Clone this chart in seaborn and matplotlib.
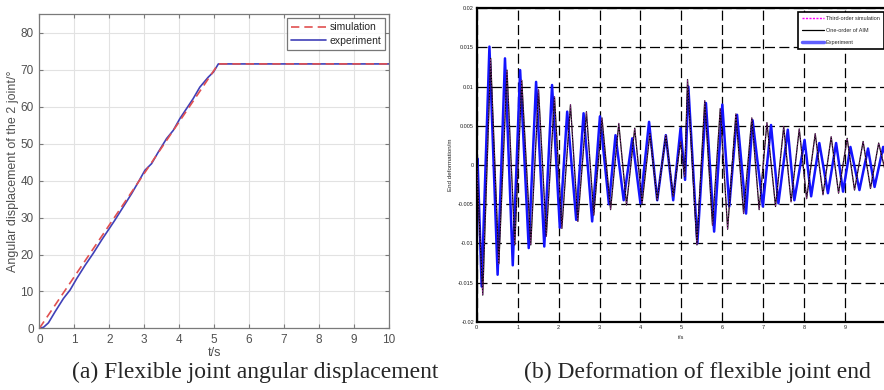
import numpy as np
import pandas as pd
import seaborn as sns
import matplotlib.pyplot as plt
from matplotlib.lines import Line2D

# (a) joint angular displacement
sim_t = [0.0, 5.12, 10.0]
sim_deg = [0.0, 71.6, 71.6]
exp_t = [0.0, 0.12, 0.26, 0.45, 0.69, 0.88, 1.07, 1.31, 1.54, 1.78, 1.97, 2.16, 2.40,
         2.64, 2.83, 3.02, 3.21, 3.40, 3.64, 3.83, 4.02, 4.21, 4.40, 4.59, 4.83,
         4.98, 5.12, 10.0]
exp_deg = [0.0, 0.3, 1.5, 4.5, 8.1, 10.4, 13.5, 17.1, 20.3, 23.9, 26.6, 29.3, 32.9,
           36.5, 39.6, 42.8, 44.6, 47.7, 51.4, 53.6, 56.8, 59.5, 62.2, 65.3, 68.0,
           69.4, 71.6, 71.6]

# (b) end deformation (extrema)
aim_t = [0.0, 0.147, 0.34, 0.54, 0.74, 0.93, 1.10, 1.32, 1.51, 1.70, 1.90, 2.08,
         2.29, 2.47, 2.68, 2.86, 3.06, 3.27, 3.47, 3.66, 3.86, 4.04, 4.23, 4.41,
         4.62, 4.80, 4.98, 5.08, 5.15, 5.38, 5.57, 5.76, 5.95, 6.13, 6.33, 6.52,
         6.72, 6.90, 7.09, 7.30, 7.50, 7.68, 7.88, 8.06, 8.27, 8.46, 8.66, 8.84,
         9.05, 9.23, 9.44, 9.62, 9.82, 10.0]
aim_v = [0.0, -0.0166, 0.0136, -0.0126, 0.0121, -0.0102, 0.0108, -0.0102, 0.0096,
         -0.0091, 0.0087, -0.0081, 0.0077, -0.0072, 0.0068, -0.0064, 0.0060,
         -0.0057, 0.0053, -0.0051, 0.0047, -0.0049, 0.0040, -0.0045, 0.0038,
         -0.0040, 0.0030, -0.0015, 0.0109, -0.0102, 0.0082, -0.0077, 0.0072,
         -0.0082, 0.0065, -0.0062, 0.0060, -0.0057, 0.0054, -0.0053, 0.0049,
         -0.0047, 0.0046, -0.0043, 0.0040, -0.0038, 0.0036, -0.0036, 0.0034,
         -0.0032, 0.0030, -0.0030, 0.0028, -0.0012]
meas_t = [0.0, 0.02, 0.12, 0.31, 0.51, 0.69, 0.88, 1.06, 1.27, 1.45, 1.65, 1.84,
          2.03, 2.21, 2.43, 2.61, 2.82, 3.01, 3.23, 3.39, 3.59, 3.80, 4.00, 4.21,
          4.41, 4.62, 4.80, 4.98, 5.09, 5.17, 5.39, 5.60, 5.80, 6.00, 6.17, 6.36,
          6.58, 6.74, 6.99, 7.19, 7.37, 7.60, 7.76, 8.01, 8.17, 8.37, 8.58, 8.78,
          8.95, 9.13, 9.35, 9.56, 9.72, 9.93, 10.0]
meas_v = [0.0, 0.0008, -0.0155, 0.0151, -0.0140, 0.0136, -0.0128, 0.0121, -0.0106,
          0.0106, -0.0104, 0.0102, -0.0080, 0.0068, -0.0070, 0.0066, -0.0072,
          0.0062, -0.0050, 0.0038, -0.0045, 0.0034, -0.0049, 0.0055, -0.0045,
          0.0038, -0.0045, 0.0047, -0.0019, 0.0100, -0.0100, 0.0079, -0.0085,
          0.0077, -0.0053, 0.0064, -0.0062, 0.0057, -0.0053, 0.0051, -0.0049,
          0.0045, -0.0045, 0.0032, -0.0040, 0.0028, -0.0036, 0.0028, -0.0034,
          0.0023, -0.0032, 0.0021, -0.0028, 0.0023, 0.0010]

sns.set_style('white')
plt.rcParams['font.family'] = ['Liberation Sans', 'DejaVu Sans']

fig = plt.figure(figsize=(8.84, 3.9), dpi=100)

# ---- panel (a) ----
ax1 = fig.add_axes([0.0445, 0.158, 0.3955, 0.805])
sns.lineplot(x=exp_t, y=exp_deg, ax=ax1, color='#4040b8', lw=1.2, label='experiment')
sns.lineplot(x=sim_t, y=sim_deg, ax=ax1, color='#e05050', lw=1.2, ls=(0, (5, 3)),
             label='simulation')
ax1.set_xlim(0, 10)
ax1.set_ylim(0, 85)
ax1.set_xticks(range(0, 11))
ax1.set_yticks(range(0, 81, 10))
ax1.grid(True, color='#e2e2e2', lw=0.8)
for s in ax1.spines.values():
    s.set_color('#7a7a7a')
    s.set_linewidth(0.9)
ax1.tick_params(direction='in', length=3, color='#7a7a7a', labelcolor='#505050',
                labelsize=8.5, top=True, right=True, bottom=True, left=True, pad=4)
ax1.set_xlabel('t/s', fontsize=9, color='#505050', labelpad=1)
ax1.set_ylabel('Angular displacement of the 2 joint/°', fontsize=9, color='#505050',
               labelpad=1)
h, l = ax1.get_legend_handles_labels()
leg1 = ax1.legend([h[1], h[0]], [l[1], l[0]], loc='upper right', fontsize=7.5,
                  frameon=True, fancybox=False, handlelength=3.4, borderpad=0.4,
                  labelspacing=0.35, handletextpad=0.3, borderaxespad=0.35)
leg1.get_frame().set_edgecolor('#555555')
leg1.get_frame().set_linewidth(0.9)

# ---- panel (b) ----
ax2 = fig.add_axes([0.5393, 0.175, 0.463, 0.804])
sns.lineplot(x=meas_t, y=meas_v, ax=ax2, color='#1414ff', lw=1.8, zorder=2)
sns.lineplot(x=aim_t, y=aim_v, ax=ax2, color='black', lw=0.9, zorder=3)
sns.lineplot(x=aim_t, y=aim_v, ax=ax2, color='#d040d0', lw=0.6, ls=(0, (2, 1.5)),
             alpha=0.6, zorder=4)
ax2.set_xlim(0, 10)
ax2.set_ylim(-0.02, 0.02)
ax2.set_xticks(range(0, 10))
ax2.set_xticklabels([str(i) for i in range(0, 10)])
yt = [-0.02, -0.015, -0.01, -0.005, 0, 0.005, 0.01, 0.015, 0.02]
ax2.set_yticks(yt)
ax2.set_yticklabels(['-0.02', '-0.015', '-0.01', '-0.005', '0', '0.005', '0.01',
                     '0.015', '0.02'])
ax2.grid(True, color='black', lw=0.9, ls=(0, (8, 3.5)))
for s in ax2.spines.values():
    s.set_color('black')
    s.set_linewidth(1.6)
ax2.tick_params(direction='in', length=0, labelsize=4.0, labelcolor='#222222', pad=2)
ax2.set_xlabel('t/s', fontsize=4.3, labelpad=4)
ax2.set_ylabel('End deformation/m', fontsize=4.5, labelpad=4)
handles = [Line2D([], [], color='#ff00ff', lw=1.0, ls=(0, (1.5, 1))),
           Line2D([], [], color='black', lw=0.9),
           Line2D([], [], color='#6060ff', lw=2.5)]
leg2 = ax2.legend(handles, ['Third-order simulation', 'One-order of AIM', 'Experiment'],
                  loc='upper right', bbox_to_anchor=(0.994, 0.988),
                  prop={'size': 4.0}, frameon=True, fancybox=False,
                  handlelength=4.0, borderpad=0.7, labelspacing=1.25,
                  handletextpad=0.3, borderaxespad=0.0)
leg2.get_frame().set_edgecolor('black')
leg2.get_frame().set_linewidth(1.2)
leg2.get_frame().set_alpha(1)

# captions
fig.text(0.2885, 0.03, '(a) Flexible joint angular displacement', ha='center',
         va='baseline', fontsize=17, family='Liberation Serif')
fig.text(0.789, 0.03, '(b) Deformation of flexible joint end', ha='center',
         va='baseline', fontsize=17, family='Liberation Serif')

fig.savefig('out.png', dpi=100)
